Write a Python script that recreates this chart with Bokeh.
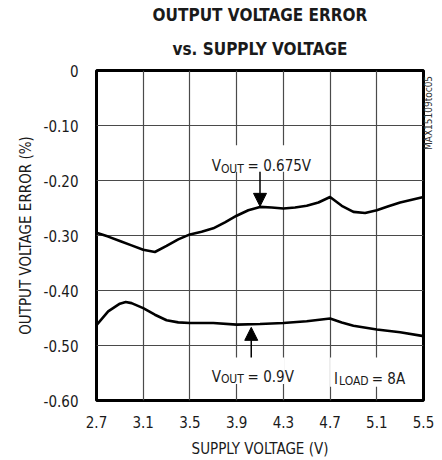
import math
from bokeh.plotting import figure
from bokeh.models import (Label, Arrow, NormalHead, FixedTicker, Range1d, BoxAnnotation, Title,
                          LinearAxis)
from bokeh.embed import file_html
from bokeh.resources import INLINE

# ---- data ----
x_ticks = [2.7, 3.1, 3.5, 3.9, 4.3, 4.7, 5.1, 5.5]
x_tick_labels = ["2.7", "3.1", "3.5", "3.9", "4.3", "4.7", "5.1", "5.5"]
y_ticks = [0.0, -0.1, -0.2, -0.3, -0.4, -0.5, -0.6]
y_tick_labels = ["0", "-0.10", "-0.20", "-0.30", "-0.40", "-0.50", "-0.60"]

vout_0675_x = [2.7, 2.8, 2.9, 3.0, 3.1, 3.2, 3.3, 3.4, 3.5, 3.6, 3.7, 3.8, 3.9, 4.0,
               4.1, 4.2, 4.3, 4.4, 4.5, 4.6, 4.7, 4.8, 4.9, 5.0, 5.1, 5.2, 5.3, 5.4, 5.5]
vout_0675_y = [-0.295, -0.302, -0.310, -0.318, -0.326, -0.330, -0.319, -0.307, -0.298,
               -0.293, -0.287, -0.276, -0.264, -0.254, -0.248, -0.249, -0.251, -0.249,
               -0.246, -0.240, -0.230, -0.246, -0.257, -0.259, -0.254, -0.247, -0.240,
               -0.235, -0.230]

vout_09_x = [2.7, 2.8, 2.9, 2.95, 3.0, 3.1, 3.2, 3.3, 3.4, 3.5, 3.7, 3.9, 4.1, 4.3,
             4.5, 4.7, 4.8, 4.9, 5.1, 5.3, 5.5]
vout_09_y = [-0.463, -0.438, -0.424, -0.421, -0.423, -0.432, -0.444, -0.454, -0.458,
             -0.459, -0.459, -0.462, -0.461, -0.459, -0.456, -0.451, -0.458, -0.464,
             -0.471, -0.476, -0.483]

side_code = "MAX15109toc05"
side_code_pos = -0.1446   # bottom end of the rotated text

FONT = "DejaVu Sans Condensed"
TXT = "#1a1a1a"

p = figure(width=442, height=460, output_backend="svg", toolbar_location=None,
           x_range=Range1d(2.7, 5.5), y_range=Range1d(-0.6, 0.0),
           min_border_left=96, min_border_right=17, min_border_top=70, min_border_bottom=58)

p.outline_line_color = "black"
p.outline_line_width = 3
p.background_fill_color = "white"
p.border_fill_color = "white"

# titles: default title is the outer line, the added Title sits next to the frame
p.title.text = "OUTPUT VOLTAGE ERROR"
p.title.align = "center"
p.title.text_font = FONT
p.title.text_font_size = "17px"
p.title.text_font_style = "bold"
p.title.text_color = TXT
p.title.standoff = 0
p.add_layout(Title(text="vs. SUPPLY VOLTAGE", align="center", text_font=FONT,
                   text_font_size="17px", text_font_style="bold", text_color=TXT,
                   standoff=24), "above")

# side code as a single-tick label on a right axis
side_axis = LinearAxis(ticker=FixedTicker(ticks=[side_code_pos]),
                       major_label_overrides={side_code_pos: side_code},
                       major_label_orientation=math.pi / 2,
                       major_label_text_font=FONT, major_label_text_font_size="10px",
                       major_label_text_color="#333333", major_label_standoff=5,
                       axis_line_color=None, major_tick_line_color=None,
                       minor_tick_line_color=None, major_tick_out=0, major_tick_in=0,
                       minor_tick_out=0, minor_tick_in=0)
p.add_layout(side_axis, "right")

# grid
p.xgrid.ticker = FixedTicker(ticks=x_ticks)
p.ygrid.ticker = FixedTicker(ticks=y_ticks)
for g in (p.xgrid, p.ygrid):
    g.grid_line_color = "#4a4a4a"
    g.grid_line_width = 1.2

# axes
xa, ya = p.xaxis[0], p.yaxis[0]
xa.ticker = FixedTicker(ticks=x_ticks)
ya.ticker = FixedTicker(ticks=y_ticks)
xa.major_label_overrides = {t: l for t, l in zip(x_ticks, x_tick_labels)}
ya.major_label_overrides = {t: l for t, l in zip(y_ticks, y_tick_labels)}
for ax in (xa, ya):
    ax.axis_line_color = None
    ax.major_tick_line_color = None
    ax.minor_tick_line_color = None
    ax.major_tick_out = 0
    ax.major_tick_in = 0
    ax.minor_tick_out = 0
    ax.minor_tick_in = 0
    ax.major_label_text_font = FONT
    ax.major_label_text_font_size = "15px"
    ax.major_label_text_color = TXT
    ax.axis_label_text_font = FONT
    ax.axis_label_text_font_size = "15px"
    ax.axis_label_text_font_style = "normal"
    ax.axis_label_text_color = TXT
xa.axis_label = "SUPPLY VOLTAGE (V)"
ya.axis_label = "OUTPUT VOLTAGE ERROR (%)"
xa.major_label_standoff = 15
xa.axis_label_standoff = 9
ya.major_label_standoff = 18
ya.axis_label_standoff = 6

# curves
p.line(vout_0675_x, vout_0675_y, line_color="black", line_width=2.6, line_join="round")
p.line(vout_09_x, vout_09_y, line_color="black", line_width=2.6, line_join="round")

# label backgrounds
for (l, r, t, b) in [(3.645, 4.55, -0.136, -0.184),
                     (3.645, 4.31, -0.522, -0.570),
                     (4.70, 5.38, -0.522, -0.575)]:
    p.add_layout(BoxAnnotation(left=l, right=r, top=t, bottom=b, fill_color="white",
                               fill_alpha=1.0, line_color=None))

def txt(x, y, s, size="15px"):
    p.add_layout(Label(x=x, y=y, text=s, text_font=FONT, text_font_size=size,
                       text_align="left", text_baseline="alphabetic", text_color=TXT))

# annotations: VOUT = 0.675V
txt(3.687, -0.1735, "V")
txt(3.765, -0.1785, "OUT", size="12px")
txt(3.994, -0.1735, "= 0.675V")
# VOUT = 0.9V
txt(3.687, -0.5567, "V")
txt(3.765, -0.5617, "OUT", size="12px")
txt(3.994, -0.5567, "= 0.9V")
# ILOAD = 8A
txt(4.734, -0.5600, "I")
txt(4.777, -0.5650, "LOAD", size="12px")
txt(5.057, -0.5600, "= 8A")

# arrows
p.add_layout(Arrow(x_start=4.1, y_start=-0.184, x_end=4.1, y_end=-0.247,
                   line_color="black", line_width=1.5,
                   end=NormalHead(size=13, fill_color="black", line_color="black")))
p.add_layout(Arrow(x_start=4.025, y_start=-0.522, x_end=4.025, y_end=-0.467,
                   line_color="black", line_width=1.5,
                   end=NormalHead(size=13, fill_color="black", line_color="black")))

open("out.html", "w").write(file_html(p, INLINE))
